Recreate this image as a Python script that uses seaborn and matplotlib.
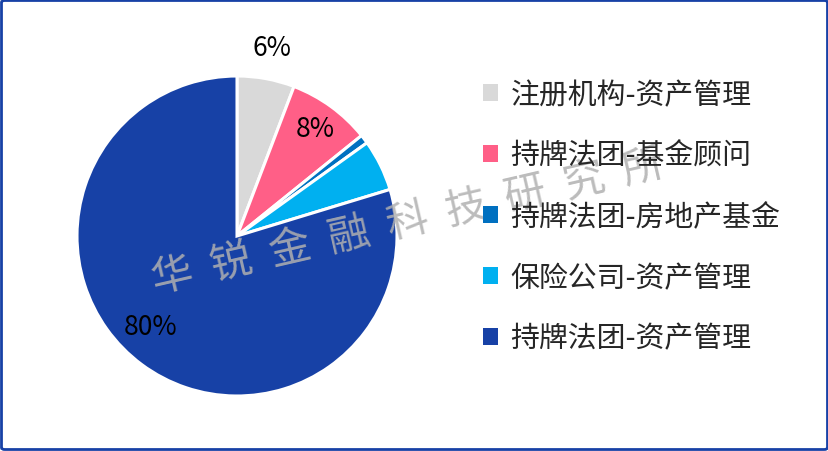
import matplotlib
matplotlib.use("Agg")
import matplotlib.pyplot as plt
import seaborn as sns
import numpy as np
from matplotlib.patches import FancyBboxPatch

categories = ["注册机构-资产管理", "持牌法团-基金顾问", "持牌法团-房地产基金",
              "保险公司-资产管理", "持牌法团-资产管理"]
values = [5.8, 8.4, 0.9, 5.2, 79.7]
pct_labels = ["6%", "8%", "", "", "80%"]
colors = ["#D9D9D9", "#FF5F87", "#0070C0", "#00B0F0", "#1741A6"]
watermark = "华  锐  金  融  科  技  研  究  所"

sns.set_theme(style="white")
plt.rcParams['font.family'] = ['Noto Sans CJK SC', 'DejaVu Sans']

W, H = 829, 452
fig = plt.figure(figsize=(W / 100, H / 100), dpi=100)
fig.patch.set_facecolor("white")

cx, cy, r = 237, 237, 160
ax = fig.add_axes([(cx - r) / W, (H - cy - r) / H, 2 * r / W, 2 * r / H])
wedges, _ = ax.pie(values, colors=colors, startangle=90, counterclock=False,
                   wedgeprops=dict(edgecolor="white", linewidth=2.2), radius=1)
ax.set_xlim(-1, 1)
ax.set_ylim(-1, 1)
ax.set_aspect("equal")
ax.axis("off")

label_r = [1.2, 0.83, 0, 0, 0.78]
label_off = [0, 0, 0, 0, -7]
for w, lab, lr, off in zip(wedges, pct_labels, label_r, label_off):
    if not lab:
        continue
    ang = np.deg2rad((w.theta1 + w.theta2) / 2 + off)
    ax.text(lr * np.cos(ang), lr * np.sin(ang), lab, ha="center", va="center",
            fontsize=19, color="black")

leg = fig.legend(wedges, categories, loc="upper left",
                 bbox_to_anchor=(483 / W, 1 - 81 / H), frameon=False,
                 fontsize=20.8, handlelength=0.53, handleheight=0.53,
                 handletextpad=0.42, labelspacing=1.07, borderpad=0,
                 borderaxespad=0)
for h in leg.legend_handles:
    h.set_edgecolor("none")

fig.text(408 / W, 1 - 223 / H, watermark, fontsize=30, color="#b0b0b0",
         alpha=0.85, rotation=13, ha="center", va="center",
         family=["Noto Sans CJK SC"], fontweight="light")

border = FancyBboxPatch((1.5 / W, 1.5 / H), 1 - 3 / W, 1 - 3 / H,
                        boxstyle="round,pad=0,rounding_size=0.004",
                        transform=fig.transFigure, fill=False,
                        edgecolor="#1741A6", linewidth=2)
fig.patches.append(border)

fig.savefig("out.png", dpi=100)
